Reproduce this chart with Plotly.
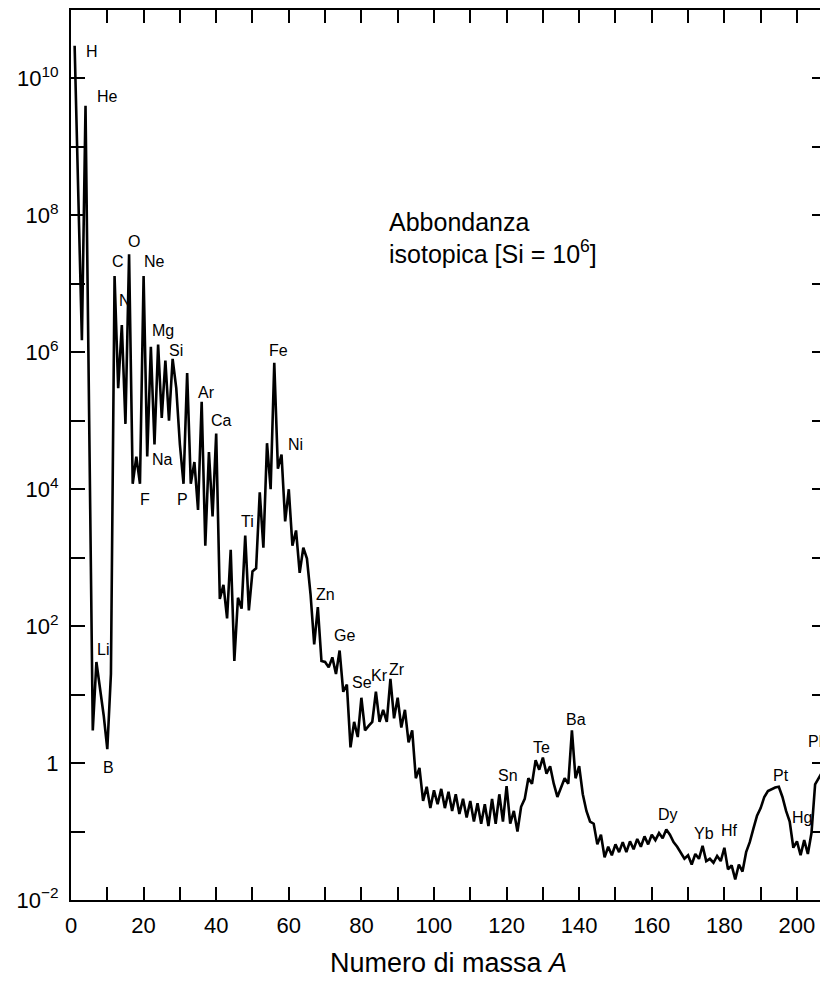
import math
import plotly.graph_objects as go

# ---------------- data ----------------
mass_number = [1, 3, 4, 6, 7] + list(range(9, 209))

abundance = [
    3.0e10, 1.5e6, 4.0e9, 3.0, 30,                                   # 1,3,4,6,7
    5, 1.6,                                                           # 9-10
    20, 1.3e7, 3e5, 2.5e6, 9e4, 2.7e7, 1.2e4, 3e4, 1.2e4, 1.3e7,      # 11-20
    3e4, 1.2e6, 4.5e4, 1.3e6, 1.1e5, 7.6e5, 1e5, 8e5, 3e5, 4.5e4,     # 21-30
    1.2e4, 5e5, 1.2e4, 2.5e4, 5e3, 1.9e5, 1.5e3, 3.5e4, 4e3, 6.5e4,   # 31-40
    250, 400, 130, 1.3e3, 31, 260, 180, 2.1e3, 170, 630,              # 41-50
    700, 9e3, 1.4e3, 4.7e4, 1e4, 7e5, 2e4, 3.2e4, 3.4e3, 1e4,         # 51-60
    1.5e3, 2.5e3, 600, 1.4e3, 970, 290, 54, 190, 31, 30,              # 61-70
    25, 35, 20, 44, 11, 14, 1.7, 4, 2.4, 9,                           # 71-80
    3, 3.5, 4, 11, 4, 6, 4, 17, 4.5, 9,                               # 81-90
    3.3, 6, 2, 3, 0.6, 0.85, 0.28, 0.45, 0.22, 0.4,                   # 91-100
    0.25, 0.42, 0.22, 0.38, 0.2, 0.35, 0.18, 0.3, 0.16, 0.28,         # 101-110
    0.14, 0.26, 0.13, 0.25, 0.12, 0.3, 0.13, 0.35, 0.14, 0.46,        # 111-120
    0.13, 0.2, 0.1, 0.23, 0.3, 0.6, 0.5, 1.1, 0.8, 1.2,               # 121-130
    0.7, 0.9, 0.5, 0.32, 0.45, 0.6, 0.5, 3.0, 0.6, 0.9,               # 131-140
    0.35, 0.2, 0.14, 0.13, 0.065, 0.09, 0.042, 0.06, 0.045, 0.065,    # 141-150
    0.05, 0.07, 0.05, 0.072, 0.055, 0.078, 0.06, 0.085, 0.065, 0.09,  # 151-160
    0.075, 0.095, 0.08, 0.107, 0.09, 0.07, 0.06, 0.05, 0.04, 0.045,   # 161-170
    0.033, 0.047, 0.04, 0.062, 0.037, 0.04, 0.035, 0.044, 0.037, 0.058,  # 171-180
    0.028, 0.032, 0.02, 0.033, 0.026, 0.05, 0.07, 0.11, 0.17, 0.22,   # 181-190
    0.32, 0.39, 0.42, 0.44, 0.45, 0.32, 0.2, 0.14, 0.058, 0.072,      # 191-200
    0.045, 0.075, 0.047, 0.095, 0.49, 0.62, 0.75, 1.35,               # 201-208
]
assert len(mass_number) == len(abundance)

# element labels: (text, mass number position, abundance level)
element_labels = [
    ("H", 5.7, 2.5e10), ("He", 10.0, 5.5e9), ("Li", 8.9, 46), ("B", 10.4, 0.87),
    ("C", 13.0, 2.1e7), ("N", 15.0, 5.8e6), ("O", 17.3, 4.2e7), ("Ne", 23.1, 2.1e7),
    ("Mg", 25.4, 2.1e6), ("Si", 29.0, 1.07e6), ("Na", 25.2, 2.7e4), ("F", 20.3, 7.1e3),
    ("P", 30.7, 7.1e3), ("Ar", 37.3, 2.6e5), ("Ca", 41.5, 1.02e5), ("Ti", 48.7, 3.4e3),
    ("Fe", 57.1, 1.07e6), ("Ni", 61.8, 4.5e4), ("Zn", 70.2, 290), ("Ge", 75.3, 72),
    ("Se", 80.3, 15), ("Kr", 84.9, 19), ("Zr", 89.9, 23.5), ("Sn", 120.3, 0.65),
    ("Te", 129.5, 1.7), ("Ba", 139.0, 4.4), ("Dy", 164.6, 0.175), ("Yb", 174.3, 0.095),
    ("Hf", 181.3, 0.105), ("Pt", 195.7, 0.65), ("Hg", 201.5, 0.16), ("Pb", 205.8, 2.1),
]

x_major_ticks = list(range(0, 201, 20))
x_minor_ticks = list(range(10, 201, 20))
x_tick_labels = [str(v) for v in x_major_ticks]

y_major_exponents = list(range(-2, 11, 2))
y_minor_exponents = list(range(-1, 11, 2))
y_tick_labels = []
for k in y_major_exponents:
    if k == 0:
        y_tick_labels.append("1")
    elif k < 0:
        y_tick_labels.append("10<sup>\u2212%d</sup>" % (-k))
    else:
        y_tick_labels.append("10<sup>%d</sup>" % k)

note_line1 = "Abbondanza"
note_line2 = "isotopica [Si = 10<sup>6</sup>]"
x_title = "Numero di massa <i>A</i>"

# ---------------- figure ----------------
FONT = "Liberation Sans, Arial, Helvetica, sans-serif"

fig = go.Figure()
fig.add_trace(go.Scatter(
    x=mass_number, y=abundance, mode="lines",
    line=dict(color="black", width=2.6),
    showlegend=False, hoverinfo="x+y",
))

for text, a, lvl in element_labels:
    fig.add_annotation(x=a, y=math.log10(lvl), text=text, showarrow=False,
                       font=dict(family=FONT, size=16, color="black"))

fig.add_annotation(xref="paper", yref="paper", x=0.419, y=0.762, xanchor="left",
                   yanchor="middle", text=note_line1, showarrow=False,
                   font=dict(family=FONT, size=25, color="black"))
fig.add_annotation(xref="paper", yref="paper", x=0.419, y=0.728, xanchor="left",
                   yanchor="middle", text=note_line2, showarrow=False,
                   font=dict(family=FONT, size=25, color="black"))

tick_style = dict(ticks="inside", tickwidth=1.5, tickcolor="black")

fig.update_xaxes(
    range=[0, 208], tickmode="array", tickvals=x_major_ticks, ticktext=x_tick_labels,
    ticklen=13, **tick_style,
    minor=dict(tickmode="array", tickvals=x_minor_ticks, ticklen=13, **tick_style),
    showline=True, linecolor="black", linewidth=2, mirror="ticks",
    showgrid=False, zeroline=False, ticklabelstandoff=5,
    tickfont=dict(family=FONT, size=22, color="black"),
    title=dict(text=x_title, font=dict(family=FONT, size=27, color="black"), standoff=16),
)
fig.update_yaxes(
    type="log", range=[-2, 11], tickmode="array",
    tickvals=[10.0 ** k for k in y_major_exponents], ticktext=y_tick_labels,
    ticklen=14, **tick_style,
    minor=dict(tickmode="array", tickvals=[10.0 ** k for k in y_minor_exponents],
               ticklen=14, **tick_style),
    showline=True, linecolor="black", linewidth=2, mirror="ticks",
    showgrid=False, zeroline=False, ticklabelstandoff=6,
    tickfont=dict(family=FONT, size=22, color="black"),
)

# the page body adds an 8 px margin; size the figure so the plot frame lands
# at the reference's pixel positions inside the 828 x 987 window
fig.update_layout(
    width=820, height=979,
    margin=dict(l=63, r=0, t=1, b=87),
    paper_bgcolor="white", plot_bgcolor="white",
    font=dict(family=FONT, color="black"),
)

fig.write_html("out.html")
